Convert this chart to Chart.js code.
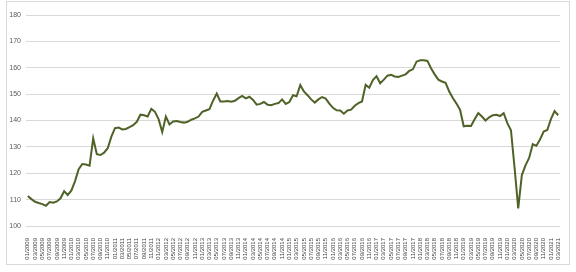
<!DOCTYPE html>
<html>
<head>
<meta charset="utf-8">
<script src="https://cdn.jsdelivr.net/npm/chart.js@4"></script>
<style>
  html, body { margin: 0; padding: 0; background: #fff; }
  #wrap { position: relative; width: 576px; height: 272px; }
  #frame { position: absolute; left: 6px; top: 1px; width: 562px; height: 262px; border: 1px solid #d9d9d9; pointer-events: none; }
</style>
</head>
<body>
<div id="wrap">
  <canvas id="myChart" width="576" height="272"></canvas>
  <div id="frame"></div>
</div>
<script>
// categories: one per month, 01/2009 .. 03/2021
const years = [2009, 2010, 2011, 2012, 2013, 2014, 2015, 2016, 2017, 2018, 2019, 2020, 2021];
const months = ['01', '02', '03', '04', '05', '06', '07', '08', '09', '10', '11', '12'];

// monthly values
const v2009 = [111.4, 110.2, 109.2, 108.7, 108.3, 107.7, 109.1, 108.8, 109.3, 110.5, 113.2, 111.8];
const v2010 = [113.5, 117.0, 121.5, 123.5, 123.3, 122.9, 133.2, 127.2, 126.9, 127.8, 129.5, 133.9];
const v2011 = [137.1, 137.3, 136.6, 136.8, 137.5, 138.2, 139.5, 142.2, 142.0, 141.5, 144.4, 143.3];
const v2012 = [140.5, 135.6, 141.5, 138.5, 139.6, 139.8, 139.4, 139.2, 139.5, 140.3, 140.8, 141.5];
const v2013 = [143.3, 143.8, 144.3, 147.5, 150.2, 147.2, 147.2, 147.4, 147.1, 147.5, 148.5, 149.3];
const v2014 = [148.4, 149.0, 147.8, 146.0, 146.3, 147.0, 146.0, 145.8, 146.3, 146.6, 148.0, 146.3];
const v2015 = [147.0, 149.6, 149.2, 153.5, 151.0, 149.6, 148.0, 146.8, 148.0, 148.9, 148.3, 146.4];
const v2016 = [144.8, 143.9, 143.8, 142.6, 143.8, 144.1, 145.6, 146.6, 147.2, 153.5, 152.4, 155.3];
const v2017 = [156.8, 154.1, 155.5, 157.0, 157.3, 156.7, 156.5, 157.0, 157.5, 158.8, 159.4, 162.3];
const v2018 = [162.8, 162.8, 162.6, 159.8, 157.5, 155.5, 154.8, 154.3, 151.0, 148.5, 146.4, 144.0];
const v2019 = [137.8, 138.0, 137.9, 140.5, 142.8, 141.5, 140.0, 141.2, 142.0, 142.2, 141.7, 142.8];
const v2020 = [139.0, 136.3, 122.0, 106.7, 119.3, 123.0, 125.8, 131.0, 130.4, 132.8, 135.8, 136.4];
const v2021 = [140.5, 143.6, 142.0];

// y axis ticks
const yMin = 100;
const yMax = 180;
const yStep = 10;

const values = [].concat(v2009, v2010, v2011, v2012, v2013, v2014, v2015,
  v2016, v2017, v2018, v2019, v2020, v2021);

const labels = [];
years.forEach((y) => {
  months.forEach((m) => {
    if (labels.length < values.length) labels.push(m + '/' + y);
  });
});

const font = "'Liberation Sans', Arial, sans-serif";

new Chart(document.getElementById('myChart').getContext('2d'), {
  type: 'line',
  data: {
    labels: labels,
    datasets: [{
      data: values,
      borderColor: '#4f6228',
      borderWidth: 2,
      pointRadius: 0,
      tension: 0,
      fill: false,
    }],
  },
  options: {
    responsive: false,
    animation: false,
    layout: { padding: { left: 6, right: 16, top: 15, bottom: 8 } },
    plugins: { legend: { display: false }, tooltip: { enabled: false } },
    scales: {
      x: {
        offset: true,
        grid: { display: false },
        border: { display: false },
        afterFit: (scale) => { scale.height = 38; },
        ticks: {
          autoSkip: false,
          maxRotation: 90,
          minRotation: 90,
          padding: 4,
          color: '#404040',
          font: { family: font, size: 6 },
          // every other month is labelled, as in the original
          callback: (value, index) => (index % 2 === 0 ? labels[index] : ''),
        },
      },
      y: {
        min: yMin,
        max: yMax,
        afterFit: (scale) => { scale.width = 20; },
        grid: { color: '#d9d9d9', lineWidth: 1, drawTicks: false },
        border: { display: false },
        ticks: {
          stepSize: yStep,
          padding: 5,
          color: '#595959',
          font: { family: font, size: 7 },
        },
      },
    },
  },
});
</script>
</body>
</html>
